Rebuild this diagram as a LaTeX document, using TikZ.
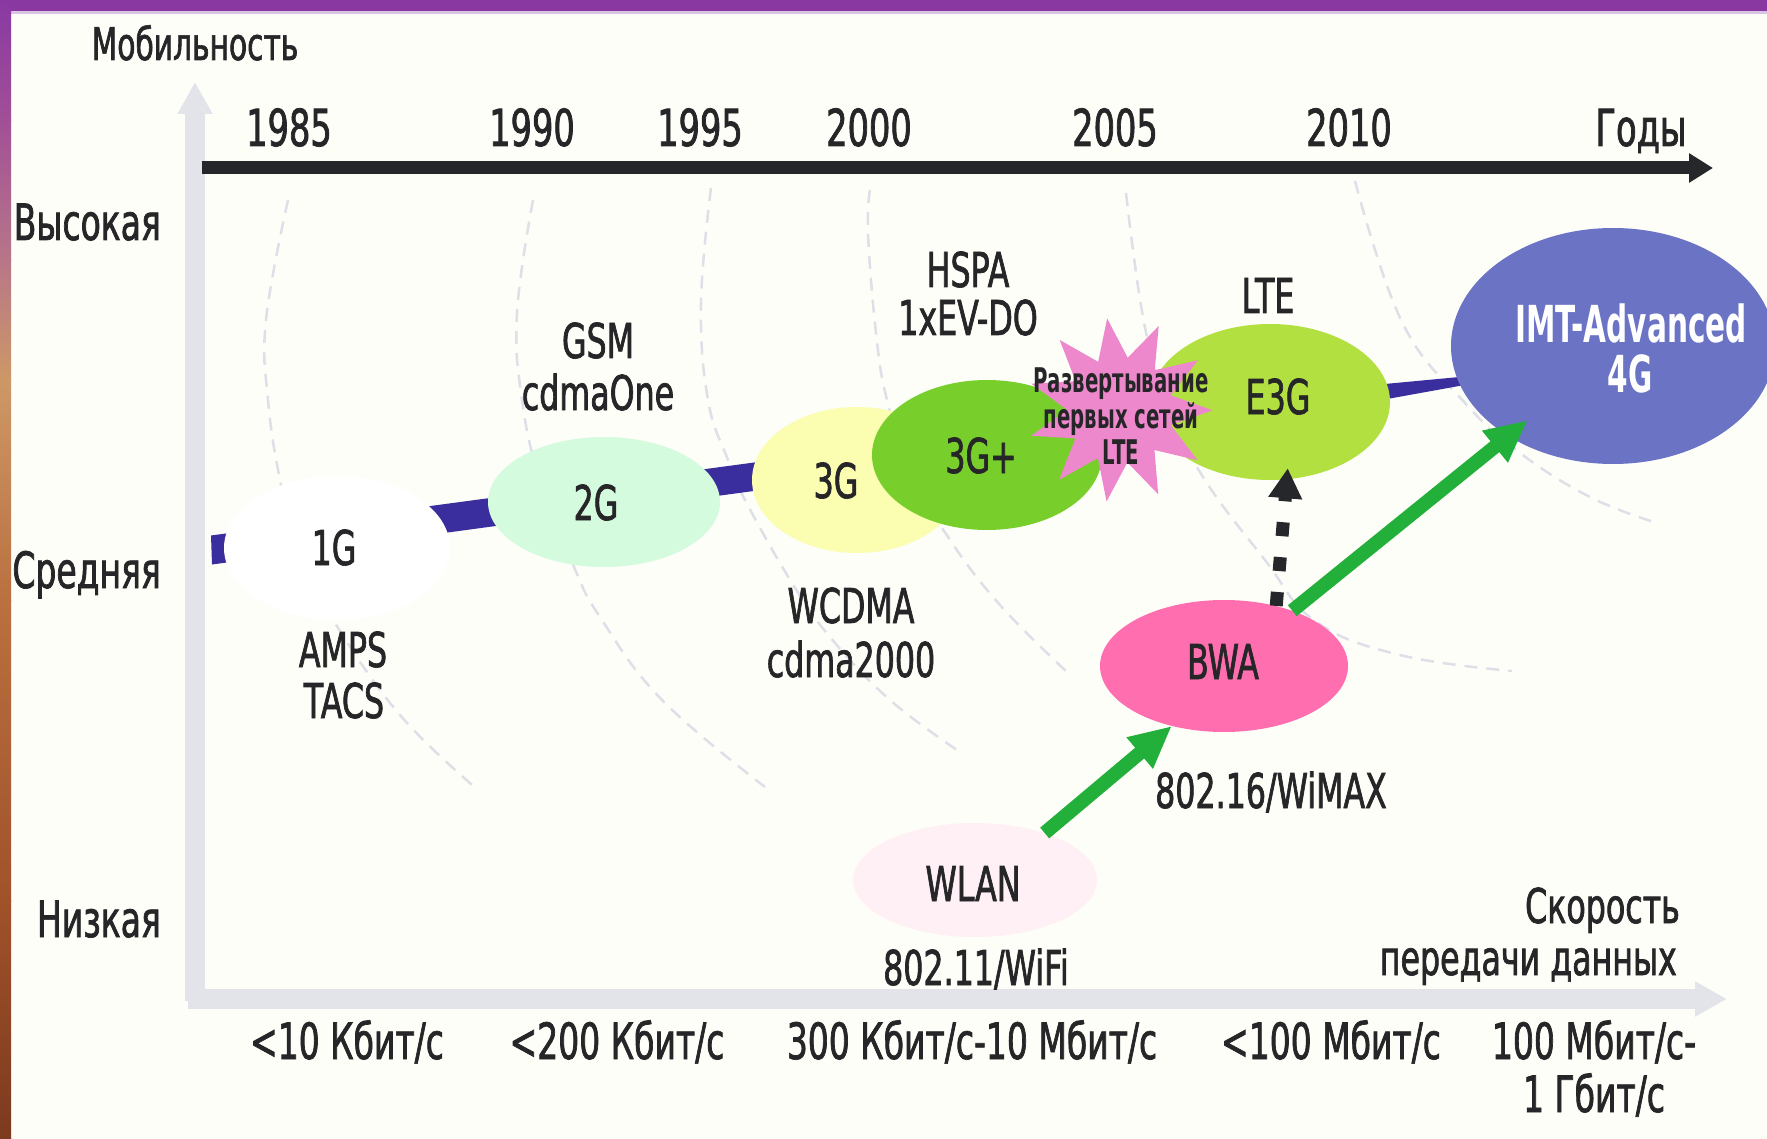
\documentclass[tikz,border=0pt]{standalone}
\usepackage{fontspec}
\setmainfont{DejaVu Sans}[FakeStretch=0.66,FakeBold=1.4]
\newfontfamily\bcond{DejaVu Sans}[FakeStretch=0.58]
\usetikzlibrary{shapes.geometric,arrows.meta,calc}
\definecolor{bg}{RGB}{254,254,249}
\definecolor{framepurple}{RGB}{137,56,162}
\definecolor{framelav}{RGB}{217,196,227}
\definecolor{fra}{RGB}{137,56,162}
\definecolor{frb}{RGB}{160,80,150}
\definecolor{frc}{RGB}{184,118,136}
\definecolor{frd}{RGB}{205,152,102}
\definecolor{fre}{RGB}{186,112,64}
\definecolor{frf}{RGB}{160,82,42}
\definecolor{frg}{RGB}{124,58,30}
\definecolor{txt}{RGB}{38,38,40}
\definecolor{arcgray}{RGB}{222,223,231}
\definecolor{axisgray}{RGB}{227,228,234}
\definecolor{axisblack}{RGB}{37,39,43}
\definecolor{bandblue}{RGB}{58,46,158}
\definecolor{c1g}{RGB}{255,255,255}
\definecolor{c2g}{RGB}{213,251,222}
\definecolor{c3g}{RGB}{251,253,176}
\definecolor{c3gp}{RGB}{120,207,44}
\definecolor{ce3g}{RGB}{178,224,65}
\definecolor{cimt}{RGB}{107,115,197}
\definecolor{cbwa}{RGB}{255,110,175}
\definecolor{cwlan}{RGB}{255,240,246}
\definecolor{starpink}{RGB}{238,136,204}
\definecolor{arrowgreen}{RGB}{34,176,58}
\begin{document}
\begin{tikzpicture}[x=1pt,y=-1pt,
  lbl/.style={inner sep=0pt, anchor=base, text=txt, font=\fontsize{48}{56}\selectfont},
  yearlbl/.style={lbl, font=\fontsize{51}{56}\selectfont},
  ylbl/.style={lbl, anchor=base east, font=\fontsize{50}{56}\selectfont},
  speedlbl/.style={lbl, font=\fontsize{50}{56}\selectfont},
  ell/.style={ellipse, inner sep=0pt, draw=none},
  arcline/.style={draw=arcgray, line width=2.5pt, dash pattern=on 13pt off 9pt},
  gaxis/.style={draw=axisgray, line width=20pt, -{Triangle[length=32pt,width=33pt]}},
  timeline/.style={draw=axisblack, line width=13pt, -{Triangle[length=24pt,width=28pt]}},
  garrow/.style={draw=arrowgreen, line width=14pt, -{Triangle[length=42pt,width=38pt]}},
  darrow/.style={draw=axisblack, line width=13pt, dash pattern=on 14pt off 21pt, -{Triangle[length=30pt,width=32pt]}}
]
\useasboundingbox (0,0) rectangle (1767,1139);
\clip (0,0) rectangle (1767,1139);
\fill[bg] (0,0) rectangle (1767,1139);
% frame
\fill[framepurple] (0,0) rectangle (1767,11);
\fill[framelav] (11,11) rectangle (1767,14);
\shade[top color=fra,bottom color=frb] (0,0) rectangle (11,121);
\shade[top color=frb,bottom color=frc] (0,120) rectangle (11,261);
\shade[top color=frc,bottom color=frd] (0,260) rectangle (11,381);
\shade[top color=frd,bottom color=fre] (0,380) rectangle (11,601);
\shade[top color=fre,bottom color=frf] (0,600) rectangle (11,901);
\shade[top color=frf,bottom color=frg] (0,900) rectangle (11,1139);

% dashed ripple arcs
\draw[arcline] plot[smooth,tension=0.7] coordinates {(288,200) (266,320) (268,400) (280,480) (298,555) (333,620) (400,715) (478,790)};
\draw[arcline] plot[smooth,tension=0.7] coordinates {(533,200) (517,313) (522,400) (540,480) (574,567) (600,617) (662,700) (765,787)};
\draw[arcline] plot[smooth,tension=0.7] coordinates {(711,188) (701,303) (708,400) (728,460) (745,500) (792,583) (830,637) (890,700) (960,752)};
\draw[arcline] plot[smooth,tension=0.7] coordinates {(870,190) (868,233) (876,333) (887,400) (910,470) (948,537) (1000,605) (1067,672)};
\draw[arcline] plot[smooth,tension=0.7] coordinates {(1126,193) (1143,317) (1165,400) (1203,477) (1265,560) (1315,621) (1400,655) (1512,671)};
\draw[arcline] plot[smooth,tension=0.7] coordinates {(1355,181) (1402,322) (1465,403) (1520,453) (1590,497) (1654,522)};

% axes
\coordinate (yorg) at (195,1001);
\coordinate (ytip) at (195,82);
\coordinate (xorg) at (188,999);
\coordinate (xtip) at (1727,999);
\coordinate (tstart) at (202,168);
\coordinate (ttip) at (1713,168);
\draw[gaxis] (yorg) -- (ytip);
\draw[gaxis] (xorg) -- (xtip);
\draw[timeline] (tstart) -- (ttip);

% evolution band
\fill[bandblue] (211,535.5) -- (1100,416) -- (1390,383.5) -- (1470,376) -- (1520,373)
  -- (1470,384) -- (1390,398.5) -- (1100,444) -- (212,564.5) -- cycle;

% generation ellipses
\node[ell, fill=c1g, minimum width=226pt, minimum height=144pt] (g1) at (337,548) {};
\node[ell, fill=c2g, minimum width=232pt, minimum height=130pt] (g2) at (604,502) {};
\node[ell, fill=c3g, minimum width=210pt, minimum height=146pt] (g3) at (857,480) {};
\node[ell, fill=c3gp, minimum width=230pt, minimum height=150pt] (g3p) at (987,455) {};
\node[ell, fill=ce3g, minimum width=240pt, minimum height=156pt] (e3g) at (1270,402) {};
\node[ell, fill=cimt, minimum width=324pt, minimum height=236pt] (imt) at (1613,346) {};
\node[ell, fill=cbwa, minimum width=248pt, minimum height=132pt] (bwa) at (1224,666) {};
\node[ell, fill=cwlan, minimum width=244pt, minimum height=114pt] (wlan) at (975,880) {};
\node[star, star points=11, star point ratio=1.75, minimum size=185pt, inner sep=0pt, fill=starpink, rotate=8] (star) at (1120,410) {};

% connectors
\draw[garrow] (wlan.34) -- (bwa.229);
\draw[garrow] (bwa.39) -- ($(imt.center)!0.82!(imt.221)$);
\draw[darrow] (bwa.49) -- ($(e3g.center)!0.86!(e3g.285)$);

% axis labels
\node[lbl, font=\fontsize{45}{52}\selectfont] (mob) at (195,60) {Мобильность};
\node[ylbl] (high) at (161,240) {Высокая};
\node[ylbl] (mid) at (161,588) {Средняя};
\node[ylbl] (low) at (161,937) {Низкая};
\node[yearlbl] (y1985) at (289,146) {1985};
\node[yearlbl] (y1990) at (532,146) {1990};
\node[yearlbl] (y1995) at (700,146) {1995};
\node[yearlbl] (y2000) at (869,146) {2000};
\node[yearlbl] (y2005) at (1115,146) {2005};
\node[yearlbl] (y2010) at (1349,146) {2010};
\node[yearlbl] (years) at (1641,146) {Годы};
\node[lbl, anchor=base east] (spd1) at (1680,923) {Скорость};
\node[lbl, anchor=base east] (spd2) at (1677,975) {передачи данных};
\node[speedlbl] (s1) at (347,1059) {<10 Кбит/с};
\node[speedlbl] (s2) at (617,1059) {<200 Кбит/с};
\node[speedlbl] (s3) at (972,1059) {300 Кбит/с-10 Мбит/с};
\node[speedlbl] (s4) at (1331,1059) {<100 Мбит/с};
\node[speedlbl] (s5) at (1594,1059) {100 Мбит/с-};
\node[speedlbl] (s5b) at (1594,1112) {1 Гбит/с};

% generation labels
\node[lbl] (t1g) at (334,565) {1G};
\node[lbl] (t2g) at (596,520) {2G};
\node[lbl] (t3g) at (836,498) {3G};
\node[lbl] (t3gp) at (981,473) {3G+};
\node[lbl] (te3g) at (1278,414) {E3G};
\node[lbl] (tbwa) at (1223,679) {BWA};
\node[lbl] (twlan) at (973,901) {WLAN};
\node[lbl, text=white, font=\bcond\bfseries\fontsize{51}{56}\selectfont] (timt) at (1631,343) {IMT-Advanced};
\node[lbl, text=white, font=\bcond\bfseries\fontsize{51}{56}\selectfont] (t4g) at (1630,393) {4G};
\node[align=center, inner sep=0pt, text=txt, font=\bcond\bfseries\fontsize{34}{36}\selectfont] (tstar) at (1121,416) {Развертывание\\первых сетей\\LTE};

% technology labels
\node[lbl] (amps) at (343,667) {AMPS};
\node[lbl] (tacs) at (344,718) {TACS};
\node[lbl] (gsm) at (598,358) {GSM};
\node[lbl] (cdma1) at (598,410) {cdmaOne};
\node[lbl] (wcdma) at (851,623) {WCDMA};
\node[lbl] (cdma2) at (851,677) {cdma2000};
\node[lbl] (hspa) at (968,287) {HSPA};
\node[lbl] (evdo) at (968,335) {1xEV-DO};
\node[lbl] (lte) at (1268,313) {LTE};
\node[lbl] (wimax) at (1271,808) {802.16/WiMAX};
\node[lbl] (wifi) at (976,985) {802.11/WiFi};
\end{tikzpicture}
\end{document}
